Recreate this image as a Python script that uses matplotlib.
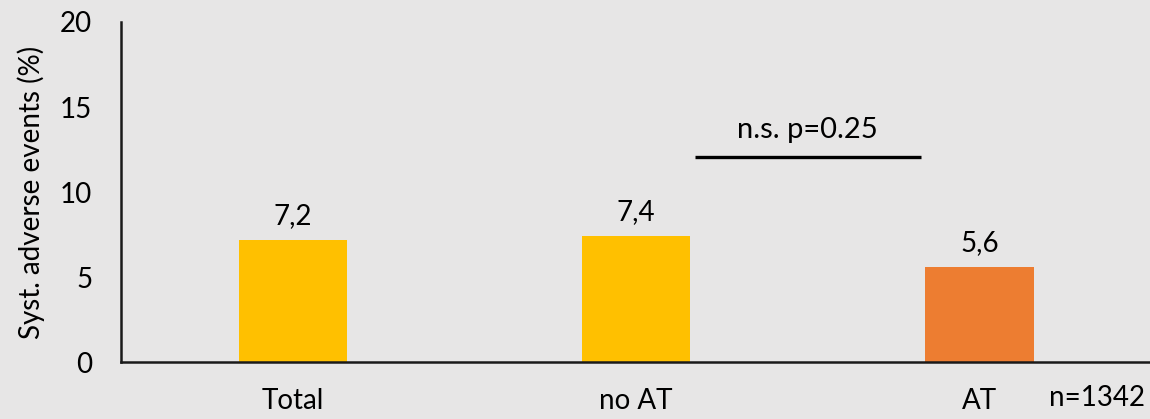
import matplotlib.pyplot as plt

# Systemic adverse events per group
groups = ['Total', 'no AT', 'AT']
rates = [7.2, 7.4, 5.6]
rate_labels = ['7,2', '7,4', '5,6']
colors = ['#FFC000', '#FFC000', '#ED7D31']
yticks = [0, 5, 10, 15, 20]
sig_text = 'n.s. p=0.25'
sig_level = 12.05
n_text = 'n=1342'

plt.rcParams['font.family'] = ['Lato', 'DejaVu Sans']
bg = '#E7E6E6'

fig = plt.figure(figsize=(11.5, 4.19), dpi=100, facecolor=bg)
ax = fig.add_axes([0.1055, 0.136, 0.8955, 0.8115], facecolor=bg)

x = range(len(groups))
ax.bar(x, rates, width=0.315, color=colors)
for xi, v, lab in zip(x, rates, rate_labels):
    ax.text(xi, v + 1.4, lab, ha='center', va='center', fontsize=20)

# significance bar between "no AT" and "AT"
ax.plot([1.17, 1.83], [sig_level, sig_level], color='black', lw=2.4,
        solid_capstyle='butt')
ax.text(1.5, sig_level + 1.6, sig_text, ha='center', va='center', fontsize=21)

ax.set_xlim(-0.5, 2.5)
ax.set_ylim(0, 20)
ax.set_yticks(yticks)
ax.set_xticks(list(x))
ax.set_xticklabels(groups)
ax.tick_params(axis='both', length=0, labelsize=20)
ax.tick_params(axis='y', pad=21)
ax.tick_params(axis='x', pad=19)
ax.set_ylabel('Syst. adverse events (%)', fontsize=20, labelpad=11)

for s in ['top', 'right']:
    ax.spines[s].set_visible(False)
for s in ['left', 'bottom']:
    ax.spines[s].set_linewidth(1.8)
    ax.spines[s].set_color('#1a1a1a')

fig.text(0.954, 0.05, n_text, ha='center', va='center', fontsize=20)

fig.savefig('out.png', dpi=100, facecolor=bg)
